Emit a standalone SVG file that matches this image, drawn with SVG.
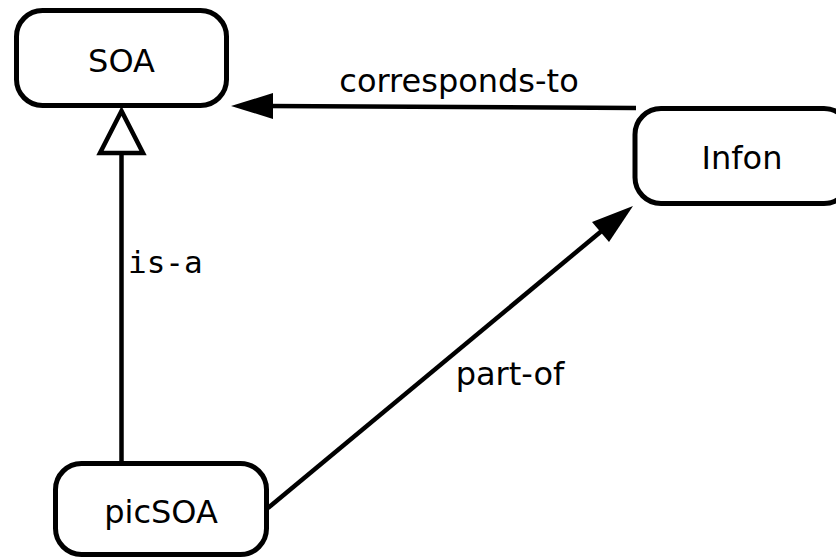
<svg xmlns="http://www.w3.org/2000/svg" width="836" height="558" viewBox="0 0 836 558">
  <style>
    .box { fill: #ffffff; stroke: #000000; stroke-width: 5; }
    .label { font-family: "DejaVu Sans", "Liberation Sans", sans-serif; font-size: 32px; fill: #000000; text-anchor: middle; }
    .mono { font-family: "DejaVu Sans Mono", "Liberation Mono", monospace; font-size: 31px; fill: #000000; }
    .edge { fill: none; stroke: #000000; stroke-width: 4.5; }
    .head { fill: #000000; stroke: none; }
    .hollow { fill: #ffffff; stroke: #000000; stroke-width: 4.5; stroke-linejoin: miter; }
  </style>
  <rect width="836" height="558" fill="#ffffff"/>

  <g id="connectors">
    <!-- corresponds-to: Infon -> SOA -->
    <g id="edge-corresponds-to">
      <line class="edge" x1="636" y1="108" x2="268" y2="106"/>
      <polygon class="head" points="231,106 273,93 273,119"/>
      <text class="label" x="459" y="92">corresponds-to</text>
    </g>
    <!-- is-a: picSOA -> SOA (generalisation) -->
    <g id="edge-is-a">
      <line class="edge" x1="121.5" y1="152" x2="121.5" y2="463"/>
      <polygon class="hollow" points="121.5,111 100,153 143,153"/>
      <text class="mono" x="128" y="273">is-a</text>
    </g>
    <!-- part-of: picSOA -> Infon -->
    <g id="edge-part-of">
      <line class="edge" x1="268" y1="508" x2="604" y2="229"/>
      <polygon class="head" points="633,206 592,222 609,242"/>
      <text class="label" x="510" y="385">part-of</text>
    </g>
  </g>

  <g id="node-soa">
    <rect class="box" x="16.5" y="10.5" width="210" height="95" rx="26" ry="26"/>
    <text class="label" x="121.5" y="72">SOA</text>
  </g>

  <g id="node-infon">
    <rect class="box" x="635" y="108.5" width="215" height="95" rx="26" ry="26"/>
    <text class="label" x="742" y="169">Infon</text>
  </g>

  <g id="node-picsoa">
    <rect class="box" x="55.5" y="463.5" width="211" height="91" rx="26" ry="26"/>
    <text class="label" x="161" y="523">picSOA</text>
  </g>
</svg>
